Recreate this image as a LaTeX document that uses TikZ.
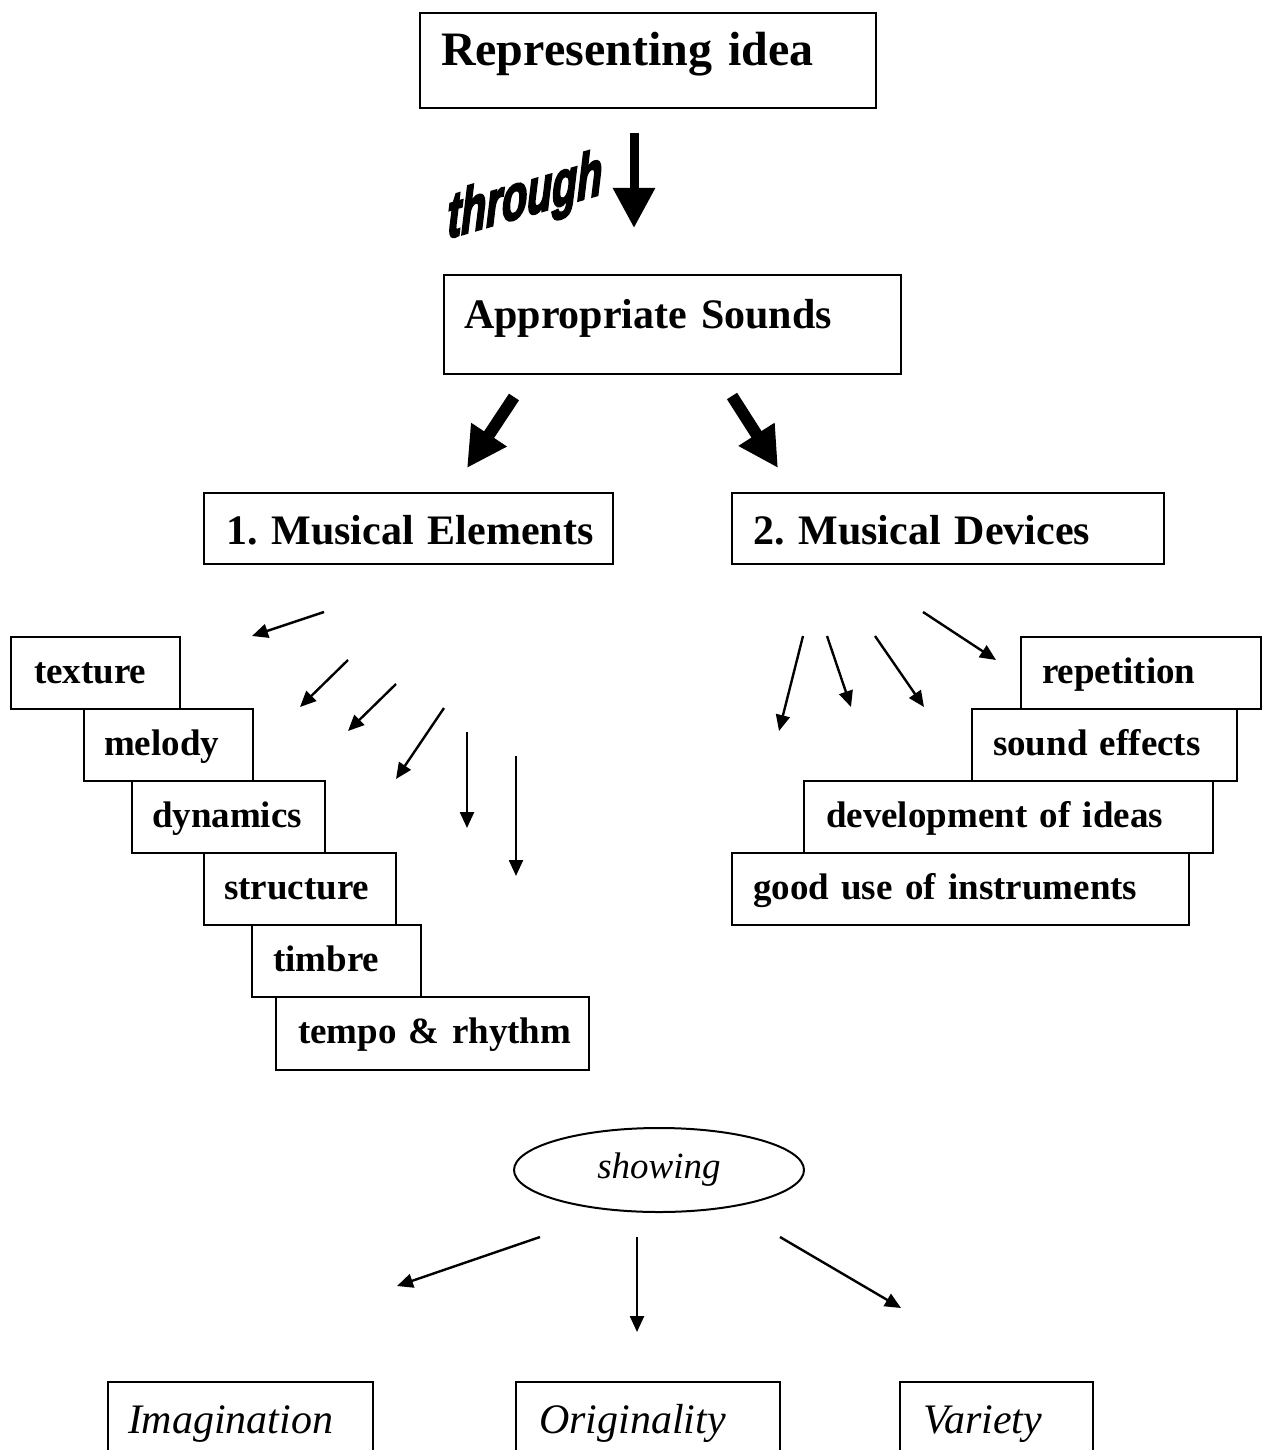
\documentclass[tikz,border=0pt]{standalone}
\usepackage{fontspec}
\setmainfont[WordSpace=0.8]{Liberation Serif}
\newfontfamily\thrufont[BoldFeatures={FakeBold=4},BoldItalicFeatures={FakeBold=4}]{Liberation Sans}
\usetikzlibrary{arrows.meta,shapes.geometric}
\tikzset{
  box/.style={draw, line width=2pt, anchor=north west, inner ysep=0pt, align=left},
  bigbf/.style={font=\fontsize{48}{56}\selectfont\bfseries},
  medbf/.style={font=\fontsize{42}{50}\selectfont\bfseries},
  itembf/.style={font=\fontsize{37}{44}\selectfont\bfseries},
  itit/.style={font=\fontsize{42}{50}\selectfont\itshape},
  row/.style={text height=46pt, text depth=26pt},
  thin/.style={line width=2.4pt, -{Triangle[width=14pt,length=16pt]}},
  thick/.style={line width=#1, -{Triangle[width=40pt,length=40pt]}},
}
\frenchspacing
\begin{document}
\frenchspacing
\begin{tikzpicture}[x=1pt,y=-1pt]
\clip (0,0) rectangle (1270,1450);
\fill[white] (0,0) rectangle (1270,1450);

% top boxes
\node[box,bigbf,inner xsep=21pt,text width=414pt,text height=53pt,text depth=42pt] (rep) at (419,12) {\mbox{Representing idea}};
\node[box,medbf,inner xsep=20pt,text width=417pt,text height=53pt,text depth=46pt] (app) at (443,274) {\mbox{Appropriate Sounds}};
\node[box,medbf,inner xsep=22pt,text width=365pt,text height=51pt,text depth=20pt] (me) at (203,492) {\mbox{1. Musical Elements}};
\node[box,medbf,inner xsep=21pt,text width=390pt,text height=51pt,text depth=20pt] (md) at (731,492) {\mbox{2. Musical Devices}};

% through arrow and word
\coordinate (t1) at (634,133);
\coordinate (t2) at (634,228);
\draw[thick=9pt] (t1) -- (t2);
\node[font=\thrufont\fontsize{64}{68}\selectfont\bfseries\itshape, yslant=0.29, xscale=0.64, transform shape, anchor=base, inner sep=0pt] (thru) at (525,216) {through};

% diagonal thick arrows
\coordinate (dl1) at (514,397);
\coordinate (dl2) at (467,468);
\coordinate (dr1) at (732,396);
\coordinate (dr2) at (778,468);
\draw[thick=12pt] (dl1) -- (dl2);
\draw[thick=12pt] (dr1) -- (dr2);

% left stack
\node[box,itembf,row,inner xsep=23pt,text width=123pt] (tex) at (10,636) {\mbox{texture}};
\node[box,itembf,row,inner xsep=20pt,text width=129pt] (mel) at (83,708) {\mbox{melody}};
\node[box,itembf,row,inner xsep=20pt,text width=153pt] (dyn) at (131,780) {\mbox{dynamics}};
\node[box,itembf,row,inner xsep=20pt,text width=152pt] (str) at (203,852) {\mbox{structure}};
\node[box,itembf,row,inner xsep=21pt,text width=127pt] (tim) at (251,924) {\mbox{timbre}};
\node[box,itembf,inner xsep=22pt,text width=269pt,text height=46pt,text depth=27pt] (tem) at (275,996) {\mbox{tempo \& rhythm}};

% left arrows
\coordinate (la1s) at (324,612); \coordinate (la1e) at (252,636);
\coordinate (la2s) at (348,660); \coordinate (la2e) at (300,707);
\coordinate (la3s) at (396,684); \coordinate (la3e) at (348,731);
\coordinate (la4s) at (444,708); \coordinate (la4e) at (396,779);
\coordinate (la5s) at (467,732); \coordinate (la5e) at (467,828);
\coordinate (la6s) at (516,756); \coordinate (la6e) at (516,876);
\draw[thin] (la1s) -- (la1e);
\draw[thin] (la2s) -- (la2e);
\draw[thin] (la3s) -- (la3e);
\draw[thin] (la4s) -- (la4e);
\draw[thin] (la5s) -- (la5e);
\draw[thin] (la6s) -- (la6e);

% right stack
\node[box,itembf,row,inner xsep=21pt,text width=198pt] (rept) at (1020,636) {\mbox{repetition}};
\node[box,itembf,row,inner xsep=21pt,text width=223pt] (snd) at (971,708) {\mbox{sound effects}};
\node[box,itembf,row,inner xsep=22pt,text width=365pt] (dev) at (803,780) {\mbox{development of ideas}};
\node[box,itembf,row,inner xsep=21pt,text width=415pt] (good) at (731,852) {\mbox{good use of instruments}};

% right arrows
\coordinate (ra1s) at (803,636); \coordinate (ra1e) at (779,731);
\coordinate (ra2s) at (827,636); \coordinate (ra2e) at (851,707);
\coordinate (ra3s) at (875,636); \coordinate (ra3e) at (924,707);
\coordinate (ra4s) at (923,612); \coordinate (ra4e) at (996,660);
\draw[thin] (ra1s) -- (ra1e);
\draw[thin] (ra2s) -- (ra2e);
\draw[thin] (ra3s) -- (ra3e);
\draw[thin] (ra4s) -- (ra4e);

% showing
\node[ellipse, draw, line width=2pt, minimum width=290pt, minimum height=84pt, inner sep=0pt,
      font=\fontsize{37}{44}\selectfont\itshape] (show) at (659,1170) {showing};

\coordinate (ba1s) at (540,1237); \coordinate (ba1e) at (397,1286);
\coordinate (ba2s) at (637,1237); \coordinate (ba2e) at (637,1332);
\coordinate (ba3s) at (780,1237); \coordinate (ba3e) at (901,1308);
\draw[thin] (ba1s) -- (ba1e);
\draw[thin] (ba2s) -- (ba2e);
\draw[thin] (ba3s) -- (ba3e);

% bottom boxes
\node[box,itit,inner xsep=20pt,text width=225pt,text height=51pt,text depth=60pt] (ima) at (107,1381) {\mbox{Imagination}};
\node[box,itit,inner xsep=23pt,text width=218pt,text height=51pt,text depth=60pt] (ori) at (515,1381) {\mbox{Originality}};
\node[box,itit,inner xsep=23pt,text width=147pt,text height=51pt,text depth=60pt] (var) at (899,1381) {\mbox{Variety}};
\end{tikzpicture}
\end{document}
